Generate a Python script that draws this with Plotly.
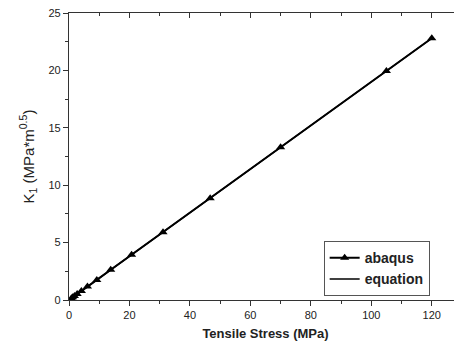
import plotly.graph_objects as go

abaqus_x = [0.8, 1.2, 1.8, 2.7, 4.1, 6.1, 9.2, 13.8, 20.7, 31.1, 46.7, 70.0, 105.0, 120.0]
abaqus_y = [0.15, 0.23, 0.34, 0.52, 0.78, 1.17, 1.75, 2.63, 3.94, 5.91, 8.87, 13.3, 19.95, 22.8]
equation_x = [0.0, 120.0]
equation_y = [0.0, 22.8]

x_ticks = [0, 20, 40, 60, 80, 100, 120]
y_ticks = [0, 5, 10, 15, 20, 25]

FONT = "Liberation Sans, Arial, sans-serif"

fig = go.Figure()
fig.add_trace(go.Scatter(
    x=abaqus_x, y=abaqus_y, mode="lines+markers", name="<b>abaqus</b>",
    line=dict(color="black", width=2),
    marker=dict(symbol="triangle-up", size=8, color="black"),
))
fig.add_trace(go.Scatter(
    x=equation_x, y=equation_y, mode="lines", name="<b>equation</b>",
    line=dict(color="black", width=1.5),
))
# invisible trace to activate mirror axes (top / right with inward ticks)
fig.add_trace(go.Scatter(x=equation_x, y=equation_y, xaxis="x2", yaxis="y2", mode="markers",
                         marker=dict(opacity=0), showlegend=False, hoverinfo="skip"))

axis_common = dict(showgrid=False, zeroline=False, showline=True, linecolor="#333",
                   linewidth=1.2, tickcolor="#333", ticklen=5, tickwidth=1, automargin=False,
                   ticklabeloverflow="allow")

fig.update_layout(
    width=454, height=339,
    margin=dict(l=61, r=0, t=5, b=47),
    paper_bgcolor="white", plot_bgcolor="white",
    font=dict(family=FONT, size=11, color="#222"),
    xaxis=dict(range=[0, 130], tickvals=x_ticks, ticks="outside",
               minor=dict(ticks="outside", dtick=10, ticklen=3, tickcolor="#333"),
               title=dict(text="<b>Tensile Stress (MPa)</b>", font=dict(size=13, color="#222"), standoff=8),
               **axis_common),
    yaxis=dict(range=[0, 25], tickvals=y_ticks, ticks="outside",
               minor=dict(ticks="outside", dtick=2.5, ticklen=3, tickcolor="#333"),
               title=dict(text="K<sub>1</sub> (MPa*m<sup>0.5</sup>)", font=dict(size=15, color="#222"), standoff=10),
               **axis_common),
    xaxis2=dict(overlaying="x", side="top", anchor="y", range=[0, 130], tickvals=x_ticks,
                ticks="inside", showticklabels=False,
                minor=dict(ticks="inside", dtick=10, ticklen=3, tickcolor="#333"),
                **axis_common),
    yaxis2=dict(overlaying="y", side="right", anchor="x", range=[0, 25], tickvals=y_ticks,
                ticks="inside", showticklabels=False,
                minor=dict(ticks="inside", dtick=2.5, ticklen=3, tickcolor="#333"),
                **axis_common),
    legend=dict(x=0.648, y=0.205, xanchor="left", yanchor="top",
                bordercolor="#555", borderwidth=1, bgcolor="white",
                font=dict(size=14, color="#222", family=FONT),
                itemwidth=30, tracegroupgap=0),
    showlegend=True,
)

fig.write_html("out.html")
